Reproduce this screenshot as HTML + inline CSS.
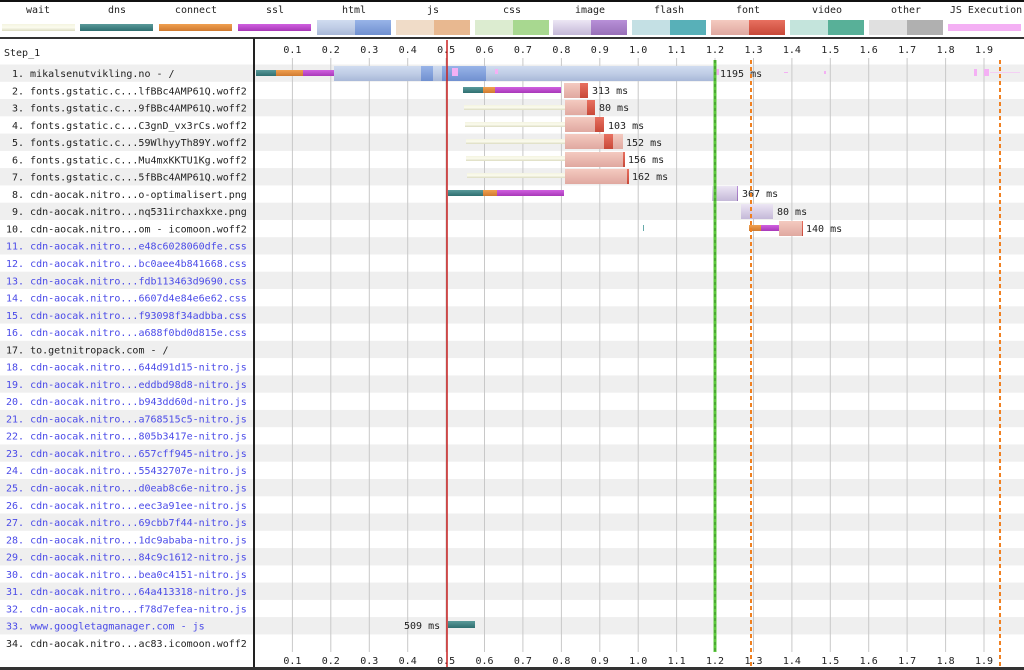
<!DOCTYPE html>
<html><head><meta charset="utf-8"><style>
html,body{margin:0;padding:0;background:#fff}
svg{display:block}
text{font-family:"DejaVu Sans Mono","Liberation Mono",monospace;font-size:10px;fill:#222}
.b{fill:#4a4ae8}
</style></head><body>
<svg width="1024" height="670" xmlns="http://www.w3.org/2000/svg">
<defs>
<linearGradient id="gw" x1="0" y1="0" x2="0" y2="1"><stop offset="0" stop-color="#f4f4e0"/><stop offset=".5" stop-color="#fbfbee"/><stop offset="1" stop-color="#dcdcc0"/></linearGradient>
<linearGradient id="gd" x1="0" y1="0" x2="0" y2="1"><stop offset="0" stop-color="#5a9a9a"/><stop offset="1" stop-color="#2f6f70"/></linearGradient>
<linearGradient id="gc" x1="0" y1="0" x2="0" y2="1"><stop offset="0" stop-color="#f0a050"/><stop offset="1" stop-color="#d07a30"/></linearGradient>
<linearGradient id="gs" x1="0" y1="0" x2="0" y2="1"><stop offset="0" stop-color="#d060e0"/><stop offset="1" stop-color="#a838b8"/></linearGradient>
<linearGradient id="gh" x1="0" y1="0" x2="0" y2="1"><stop offset="0" stop-color="#d0dcf0"/><stop offset=".5" stop-color="#c0cde6"/><stop offset="1" stop-color="#a8b8d8"/></linearGradient>
<linearGradient id="ghd" x1="0" y1="0" x2="0" y2="1"><stop offset="0" stop-color="#98b4e8"/><stop offset="1" stop-color="#7090d0"/></linearGradient>
<linearGradient id="gf" x1="0" y1="0" x2="0" y2="1"><stop offset="0" stop-color="#f4cac0"/><stop offset="1" stop-color="#e0a8a0"/></linearGradient>
<linearGradient id="gfd" x1="0" y1="0" x2="0" y2="1"><stop offset="0" stop-color="#e87060"/><stop offset="1" stop-color="#c84838"/></linearGradient>
<linearGradient id="gi" x1="0" y1="0" x2="0" y2="1"><stop offset="0" stop-color="#ece6f4"/><stop offset="1" stop-color="#c4b8d8"/></linearGradient>
<linearGradient id="gid" x1="0" y1="0" x2="0" y2="1"><stop offset="0" stop-color="#b890d8"/><stop offset="1" stop-color="#9870b8"/></linearGradient>
</defs>
<rect x="0" y="0" width="1024" height="2" fill="#111"/>
<g text-anchor="middle">
<text x="38" y="13">wait</text><text x="117" y="13">dns</text><text x="196" y="13">connect</text><text x="275" y="13">ssl</text>
<text x="354" y="13">html</text><text x="433" y="13">js</text><text x="512" y="13">css</text><text x="590" y="13">image</text>
<text x="669" y="13">flash</text><text x="748" y="13">font</text><text x="827" y="13">video</text><text x="906" y="13">other</text><text x="986" y="13">JS Execution</text>
</g>
<rect x="2" y="24" width="73" height="7" fill="url(#gw)"/>
<rect x="80" y="24" width="73" height="7" fill="url(#gd)"/>
<rect x="159" y="24" width="73" height="7" fill="url(#gc)"/>
<rect x="238" y="24" width="73" height="7" fill="url(#gs)"/>
<rect x="317" y="20" width="38" height="15" fill="url(#gh)"/><rect x="355" y="20" width="36" height="15" fill="url(#ghd)"/>
<rect x="396" y="20" width="38" height="15" fill="#f0dcc8"/><rect x="434" y="20" width="36" height="15" fill="#e8b890"/>
<rect x="475" y="20" width="38" height="15" fill="#dcecd0"/><rect x="513" y="20" width="36" height="15" fill="#a8d890"/>
<rect x="553" y="20" width="38" height="15" fill="url(#gi)"/><rect x="591" y="20" width="36" height="15" fill="url(#gid)"/>
<rect x="632" y="20" width="38" height="15" fill="#c4e0e4"/><rect x="670" y="20" width="36" height="15" fill="#58b0b8"/>
<rect x="711" y="20" width="38" height="15" fill="url(#gf)"/><rect x="749" y="20" width="36" height="15" fill="url(#gfd)"/>
<rect x="790" y="20" width="38" height="15" fill="#c4e4dc"/><rect x="828" y="20" width="36" height="15" fill="#58b098"/>
<rect x="869" y="20" width="38" height="15" fill="#e0e0e0"/><rect x="907" y="20" width="36" height="15" fill="#b0b0b0"/>
<rect x="948" y="24" width="73" height="7" fill="#f4b0f4"/>
<rect x="0" y="37" width="1024" height="2" fill="#333"/>
<g fill="#efefef">
<rect x="0" y="64.5" width="1024" height="17.3"/><rect x="0" y="99.0" width="1024" height="17.3"/><rect x="0" y="133.6" width="1024" height="17.3"/><rect x="0" y="168.1" width="1024" height="17.3"/><rect x="0" y="202.7" width="1024" height="17.3"/><rect x="0" y="237.2" width="1024" height="17.3"/><rect x="0" y="271.7" width="1024" height="17.3"/><rect x="0" y="306.3" width="1024" height="17.3"/><rect x="0" y="340.8" width="1024" height="17.3"/><rect x="0" y="375.4" width="1024" height="17.3"/><rect x="0" y="409.9" width="1024" height="17.3"/><rect x="0" y="444.4" width="1024" height="17.3"/><rect x="0" y="479.0" width="1024" height="17.3"/><rect x="0" y="513.5" width="1024" height="17.3"/><rect x="0" y="548.1" width="1024" height="17.3"/><rect x="0" y="582.6" width="1024" height="17.3"/><rect x="0" y="617.1" width="1024" height="17.3"/>
</g>
<g stroke="#c8c8c8" stroke-width="1">
<line x1="292.4" y1="58" x2="292.4" y2="652"/><line x1="330.8" y1="58" x2="330.8" y2="652"/><line x1="369.3" y1="58" x2="369.3" y2="652"/><line x1="407.7" y1="58" x2="407.7" y2="652"/><line x1="446.1" y1="58" x2="446.1" y2="652"/><line x1="484.5" y1="58" x2="484.5" y2="652"/><line x1="522.9" y1="58" x2="522.9" y2="652"/><line x1="561.4" y1="58" x2="561.4" y2="652"/><line x1="599.8" y1="58" x2="599.8" y2="652"/><line x1="638.2" y1="58" x2="638.2" y2="652"/><line x1="676.6" y1="58" x2="676.6" y2="652"/><line x1="715.0" y1="58" x2="715.0" y2="652"/><line x1="753.5" y1="58" x2="753.5" y2="652"/><line x1="791.9" y1="58" x2="791.9" y2="652"/><line x1="830.3" y1="58" x2="830.3" y2="652"/><line x1="868.7" y1="58" x2="868.7" y2="652"/><line x1="907.1" y1="58" x2="907.1" y2="652"/><line x1="945.6" y1="58" x2="945.6" y2="652"/><line x1="984.0" y1="58" x2="984.0" y2="652"/>
</g>
<g text-anchor="middle">
<text x="292.4" y="53">0.1</text><text x="330.8" y="53">0.2</text><text x="369.3" y="53">0.3</text><text x="407.7" y="53">0.4</text><text x="446.1" y="53">0.5</text><text x="484.5" y="53">0.6</text><text x="522.9" y="53">0.7</text><text x="561.4" y="53">0.8</text><text x="599.8" y="53">0.9</text><text x="638.2" y="53">1.0</text><text x="676.6" y="53">1.1</text><text x="715.0" y="53">1.2</text><text x="753.5" y="53">1.3</text><text x="791.9" y="53">1.4</text><text x="830.3" y="53">1.5</text><text x="868.7" y="53">1.6</text><text x="907.1" y="53">1.7</text><text x="945.6" y="53">1.8</text><text x="984.0" y="53">1.9</text>
<text x="292.4" y="664">0.1</text><text x="330.8" y="664">0.2</text><text x="369.3" y="664">0.3</text><text x="407.7" y="664">0.4</text><text x="446.1" y="664">0.5</text><text x="484.5" y="664">0.6</text><text x="522.9" y="664">0.7</text><text x="561.4" y="664">0.8</text><text x="599.8" y="664">0.9</text><text x="638.2" y="664">1.0</text><text x="676.6" y="664">1.1</text><text x="715.0" y="664">1.2</text><text x="753.5" y="664">1.3</text><text x="791.9" y="664">1.4</text><text x="830.3" y="664">1.5</text><text x="868.7" y="664">1.6</text><text x="907.1" y="664">1.7</text><text x="945.6" y="664">1.8</text><text x="984.0" y="664">1.9</text>
</g>
<rect x="253" y="38" width="2" height="632" fill="#222"/>
<text x="4" y="56">Step_1</text>
<g>
<text x="12" y="77.0">1. mikalsenutvikling.no - /</text>
<text x="12" y="94.3">2. fonts.gstatic.c...lfBBc4AMP61Q.woff2</text>
<text x="12" y="111.5">3. fonts.gstatic.c...9fBBc4AMP61Q.woff2</text>
<text x="12" y="128.8">4. fonts.gstatic.c...C3gnD_vx3rCs.woff2</text>
<text x="12" y="146.1">5. fonts.gstatic.c...59WlhyyTh89Y.woff2</text>
<text x="12" y="163.4">6. fonts.gstatic.c...Mu4mxKKTU1Kg.woff2</text>
<text x="12" y="180.6">7. fonts.gstatic.c...5fBBc4AMP61Q.woff2</text>
<text x="12" y="197.9">8. cdn-aocak.nitro...o-optimalisert.png</text>
<text x="12" y="215.2">9. cdn-aocak.nitro...nq531irchaxkxe.png</text>
<text x="6" y="232.4">10. cdn-aocak.nitro...om - icomoon.woff2</text>
<text class="b" x="6" y="249.7">11. cdn-aocak.nitro...e48c6028060dfe.css</text>
<text class="b" x="6" y="267.0">12. cdn-aocak.nitro...bc0aee4b841668.css</text>
<text class="b" x="6" y="284.3">13. cdn-aocak.nitro...fdb113463d9690.css</text>
<text class="b" x="6" y="301.5">14. cdn-aocak.nitro...6607d4e84e6e62.css</text>
<text class="b" x="6" y="318.8">15. cdn-aocak.nitro...f93098f34adbba.css</text>
<text class="b" x="6" y="336.1">16. cdn-aocak.nitro...a688f0bd0d815e.css</text>
<text x="6" y="353.3">17. to.getnitropack.com - /</text>
<text class="b" x="6" y="370.6">18. cdn-aocak.nitro...644d91d15-nitro.js</text>
<text class="b" x="6" y="387.9">19. cdn-aocak.nitro...eddbd98d8-nitro.js</text>
<text class="b" x="6" y="405.1">20. cdn-aocak.nitro...b943dd60d-nitro.js</text>
<text class="b" x="6" y="422.4">21. cdn-aocak.nitro...a768515c5-nitro.js</text>
<text class="b" x="6" y="439.7">22. cdn-aocak.nitro...805b3417e-nitro.js</text>
<text class="b" x="6" y="457.0">23. cdn-aocak.nitro...657cff945-nitro.js</text>
<text class="b" x="6" y="474.2">24. cdn-aocak.nitro...55432707e-nitro.js</text>
<text class="b" x="6" y="491.5">25. cdn-aocak.nitro...d0eab8c6e-nitro.js</text>
<text class="b" x="6" y="508.8">26. cdn-aocak.nitro...eec3a91ee-nitro.js</text>
<text class="b" x="6" y="526.0">27. cdn-aocak.nitro...69cbb7f44-nitro.js</text>
<text class="b" x="6" y="543.3">28. cdn-aocak.nitro...1dc9ababa-nitro.js</text>
<text class="b" x="6" y="560.6">29. cdn-aocak.nitro...84c9c1612-nitro.js</text>
<text class="b" x="6" y="577.8">30. cdn-aocak.nitro...bea0c4151-nitro.js</text>
<text class="b" x="6" y="595.1">31. cdn-aocak.nitro...64a413318-nitro.js</text>
<text class="b" x="6" y="612.4">32. cdn-aocak.nitro...f78d7efea-nitro.js</text>
<text class="b" x="6" y="629.7">33. www.googletagmanager.com - js</text>
<text x="6" y="646.9">34. cdn-aocak.nitro...ac83.icomoon.woff2</text>
</g>
<g>
<rect x="256" y="70" width="20" height="6" fill="url(#gd)"/><rect x="276" y="70" width="27" height="6" fill="url(#gc)"/><rect x="303" y="70" width="31" height="6" fill="url(#gs)"/>
<rect x="334" y="66" width="382" height="15" fill="url(#gh)"/>
<rect x="421" y="66" width="12" height="15" fill="url(#ghd)"/><rect x="442" y="66" width="44" height="15" fill="url(#ghd)"/>
<rect x="452" y="68" width="6" height="8" fill="#f4b0f4"/><rect x="495" y="69" width="3" height="5" fill="#f4b0f4"/><rect x="716" y="69" width="3" height="6" fill="#f4b0f4"/>
<rect x="784" y="72" width="4" height="1" fill="#f4b0f4"/><rect x="824" y="71" width="2" height="3" fill="#f4b0f4"/><rect x="974" y="69" width="3" height="7" fill="#f4b0f4"/><rect x="984" y="69" width="5" height="7" fill="#f4b0f4"/><rect x="990" y="72" width="30" height="1" fill="#f4d0f4"/>
<text x="720" y="77">1195 ms</text>
<rect x="463" y="87" width="20" height="6" fill="url(#gd)"/><rect x="483" y="87" width="12" height="6" fill="url(#gc)"/><rect x="495" y="87" width="66" height="6" fill="url(#gs)"/>
<rect x="564" y="83" width="16" height="15" fill="url(#gf)"/><rect x="580" y="83" width="8" height="15" fill="url(#gfd)"/><text x="592" y="94">313 ms</text>
<rect x="464" y="105" width="101" height="5" fill="url(#gw)"/><rect x="565" y="100" width="22" height="15" fill="url(#gf)"/><rect x="587" y="100" width="8" height="15" fill="url(#gfd)"/><text x="599" y="111">80 ms</text>
<rect x="465" y="122" width="100" height="5" fill="url(#gw)"/><rect x="565" y="117" width="30" height="15" fill="url(#gf)"/><rect x="595" y="117" width="9" height="15" fill="url(#gfd)"/><text x="608" y="129">103 ms</text>
<rect x="466" y="139" width="99" height="5" fill="url(#gw)"/><rect x="565" y="134" width="58" height="15" fill="url(#gf)"/><rect x="604" y="134" width="9" height="15" fill="url(#gfd)"/><text x="626" y="146">152 ms</text>
<rect x="466" y="156" width="99" height="5" fill="url(#gw)"/><rect x="565" y="152" width="59" height="15" fill="url(#gf)"/><rect x="623" y="152" width="2" height="15" fill="url(#gfd)"/><text x="628" y="163">156 ms</text>
<rect x="467" y="173" width="98" height="5" fill="url(#gw)"/><rect x="565" y="169" width="62" height="15" fill="url(#gf)"/><rect x="627" y="169" width="2" height="15" fill="url(#gfd)"/><text x="632" y="180">162 ms</text>
<rect x="448" y="190" width="35" height="6" fill="url(#gd)"/><rect x="483" y="190" width="14" height="6" fill="url(#gc)"/><rect x="497" y="190" width="67" height="6" fill="url(#gs)"/>
<rect x="712" y="186" width="26" height="15" fill="url(#gi)"/><rect x="737" y="186" width="1" height="15" fill="url(#gid)"/><text x="742" y="197">367 ms</text>
<rect x="741" y="204" width="32" height="15" fill="url(#gi)"/><text x="777" y="215">80 ms</text>
<rect x="643" y="225" width="1" height="6" fill="#6aa"/>
<rect x="749" y="225" width="12" height="6" fill="url(#gc)"/><rect x="761" y="225" width="18" height="6" fill="url(#gs)"/>
<rect x="779" y="221" width="23" height="15" fill="url(#gf)"/><rect x="802" y="221" width="1" height="15" fill="url(#gfd)"/><text x="806" y="232">140 ms</text>
<text x="404" y="629">509 ms</text><rect x="448" y="621" width="27" height="7" fill="url(#gd)"/>
</g>
<line x1="447" y1="40" x2="447" y2="670" stroke="#c82020" stroke-width="1.5"/>
<line x1="715" y1="60" x2="715" y2="652" stroke="#5cc83c" stroke-width="3"/>
<line x1="715" y1="60" x2="715" y2="652" stroke="#3a8a2a" stroke-width="1" stroke-dasharray="3,3"/>
<line x1="751" y1="60" x2="751" y2="670" stroke="#f08020" stroke-width="2" stroke-dasharray="4,3"/>
<line x1="1000" y1="60" x2="1000" y2="670" stroke="#f08020" stroke-width="2" stroke-dasharray="4,3"/>
<rect x="0" y="667" width="1024" height="3" fill="#333"/>
</svg>
</body></html>
